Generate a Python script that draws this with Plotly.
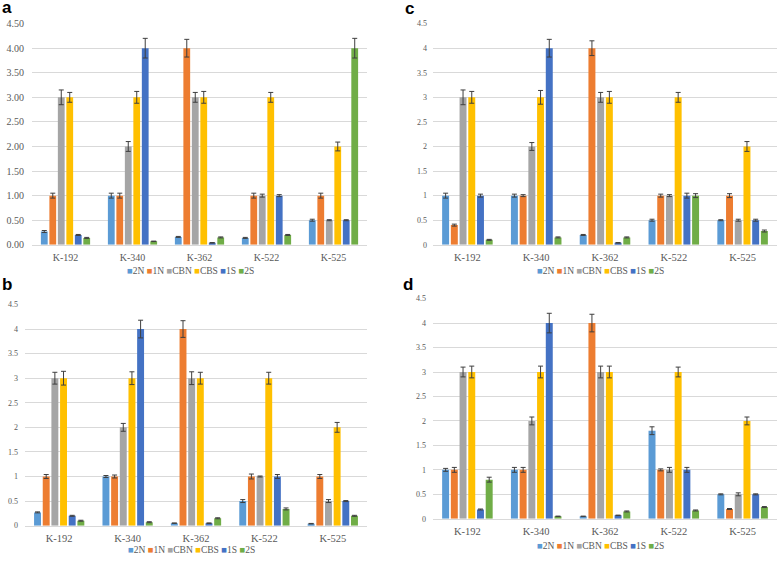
import plotly.graph_objects as go

categories = ["K-192", "K-340", "K-362", "K-522", "K-525"]
series_names = ["2N", "1N", "CBN", "CBS", "1S", "2S"]
series_colors = ["#5B9BD5", "#ED7D31", "#A5A5A5", "#FFC000", "#4472C4", "#70AD47"]

# Panel a
a_2N = [0.27, 1.0, 0.16, 0.14, 0.5]
a_1N = [1.0, 1.0, 4.0, 1.0, 1.0]
a_CBN = [3.0, 2.0, 3.0, 1.0, 0.5]
a_CBS = [3.0, 3.0, 3.0, 3.0, 2.0]
a_1S = [0.2, 4.0, 0.04, 1.0, 0.5]
a_2S = [0.14, 0.07, 0.15, 0.2, 4.0]
a_err_2N = [0.02, 0.05, 0.01, 0.01, 0.02]
a_err_1N = [0.05, 0.05, 0.18, 0.05, 0.05]
a_err_CBN = [0.15, 0.1, 0.1, 0.03, 0.01]
a_err_CBS = [0.1, 0.12, 0.12, 0.1, 0.09]
a_err_1S = [0.01, 0.2, 0.005, 0.02, 0.01]
a_err_2S = [0.01, 0.005, 0.01, 0.01, 0.2]

# Panel b
b_2N = [0.27, 1.0, 0.05, 0.5, 0.04]
b_1N = [1.0, 1.0, 4.0, 1.0, 1.0]
b_CBN = [3.0, 2.0, 3.0, 1.0, 0.5]
b_CBS = [3.0, 3.0, 3.0, 3.0, 2.0]
b_1S = [0.2, 4.0, 0.05, 1.0, 0.5]
b_2S = [0.1, 0.07, 0.15, 0.34, 0.2]
b_err_2N = [0.01, 0.02, 0.005, 0.03, 0.005]
b_err_1N = [0.04, 0.03, 0.17, 0.05, 0.04]
b_err_CBN = [0.12, 0.08, 0.13, 0.01, 0.03]
b_err_CBS = [0.14, 0.13, 0.12, 0.12, 0.1]
b_err_1S = [0.01, 0.18, 0.005, 0.04, 0.01]
b_err_2S = [0.01, 0.01, 0.01, 0.02, 0.01]

# Panel c
c_2N = [1.0, 1.0, 0.2, 0.5, 0.5]
c_1N = [0.4, 1.0, 4.0, 1.0, 1.0]
c_CBN = [3.0, 2.0, 3.0, 1.0, 0.5]
c_CBS = [3.0, 3.0, 3.0, 3.0, 2.0]
c_1S = [1.0, 4.0, 0.04, 1.0, 0.5]
c_2S = [0.1, 0.15, 0.15, 1.0, 0.28]
c_err_2N = [0.05, 0.03, 0.01, 0.02, 0.01]
c_err_1N = [0.02, 0.02, 0.15, 0.03, 0.04]
c_err_CBN = [0.15, 0.08, 0.1, 0.02, 0.02]
c_err_CBS = [0.12, 0.14, 0.12, 0.1, 0.1]
c_err_1S = [0.03, 0.18, 0.005, 0.05, 0.02]
c_err_2S = [0.01, 0.01, 0.01, 0.04, 0.02]

# Panel d
d_2N = [1.0, 1.0, 0.05, 1.8, 0.5]
d_1N = [1.0, 1.0, 4.0, 1.0, 0.2]
d_CBN = [3.0, 2.0, 3.0, 1.0, 0.5]
d_CBS = [3.0, 3.0, 3.0, 3.0, 2.0]
d_1S = [0.19, 4.0, 0.07, 1.0, 0.5]
d_2S = [0.8, 0.05, 0.15, 0.17, 0.24]
d_err_2N = [0.03, 0.05, 0.005, 0.08, 0.01]
d_err_1N = [0.05, 0.05, 0.18, 0.02, 0.01]
d_err_CBN = [0.1, 0.08, 0.12, 0.05, 0.03]
d_err_CBS = [0.12, 0.12, 0.12, 0.1, 0.08]
d_err_1S = [0.01, 0.2, 0.005, 0.05, 0.01]
d_err_2S = [0.05, 0.005, 0.01, 0.01, 0.01]

panels = {
    "a": ([a_2N, a_1N, a_CBN, a_CBS, a_1S, a_2S],
          [a_err_2N, a_err_1N, a_err_CBN, a_err_CBS, a_err_1S, a_err_2S]),
    "b": ([b_2N, b_1N, b_CBN, b_CBS, b_1S, b_2S],
          [b_err_2N, b_err_1N, b_err_CBN, b_err_CBS, b_err_1S, b_err_2S]),
    "c": ([c_2N, c_1N, c_CBN, c_CBS, c_1S, c_2S],
          [c_err_2N, c_err_1N, c_err_CBN, c_err_CBS, c_err_1S, c_err_2S]),
    "d": ([d_2N, d_1N, d_CBN, d_CBS, d_1S, d_2S],
          [d_err_2N, d_err_1N, d_err_CBN, d_err_CBS, d_err_1S, d_err_2S]),
}

W, H = 777, 561


def px_x(p):
    return p / W


def px_y(p):
    return 1 - p / H


# panel layout: (axis suffix, x0px, x1px, ytop_px(4.5), ybottom_px(0),
#                tickformat, y tick font size, y tick standoff, x tick font size)
layout_spec = {
    "a": ("", 32, 367, 18, 244, ".2f", 10, 7, 10),
    "c": ("2", 433, 777, 18, 244, "", 8, 5, 10.5),
    "b": ("3", 25, 367, 305, 531, "", 8, 6, 10.5),
    "d": ("4", 433, 777, 299, 524, "", 8, 6, 10.5),
}

SERIF = "Liberation Serif, Times New Roman, serif"
TXT = "#595959"
GRID = "#D9D9D9"

fig = go.Figure()
layout_axes = {}

for key, (vals, errs) in panels.items():
    suf, x0, x1, yt, yb, tfmt, tsize, tstand, xsize = layout_spec[key]
    for name, color, v, e in zip(series_names, series_colors, vals, errs):
        fig.add_trace(go.Bar(
            x=categories, y=v, name=name,
            marker=dict(color=color, line=dict(width=0)),
            error_y=dict(type="data", array=e, visible=True,
                         color="#3F3F3F", thickness=1, width=2.5),
            xaxis="x" + suf, yaxis="y" + suf,
            showlegend=False,
        ))
    layout_axes["xaxis" + suf] = dict(
        domain=[px_x(x0), px_x(x1)], anchor="y" + suf,
        type="category", showgrid=False, zeroline=False,
        showline=True, linecolor=GRID, linewidth=1,
        ticks="", ticklabelstandoff=3,
        tickfont=dict(family=SERIF, size=xsize, color=TXT),
        fixedrange=True,
    )
    layout_axes["yaxis" + suf] = dict(
        domain=[px_y(yb), px_y(yt)], anchor="x" + suf,
        range=[0, 4.5], dtick=0.5, tickformat=tfmt,
        showgrid=True, gridcolor=GRID, gridwidth=1,
        zeroline=False, showline=False, ticks="",
        ticklabelstandoff=tstand,
        tickfont=dict(family=SERIF, size=tsize, color=TXT),
        fixedrange=True,
    )

# panel letters (label, left px, top px of text box) and legends as text
letters = [("a", 0, -10), ("c", 403, -9), ("b", 0, 273), ("d", 401, 273)]
legend_pos = [(190, 271), (600, 271), (191, 556), (600, 552)]

annotations = []
for (lab, lx, ly) in letters:
    annotations.append(dict(
        text="<b>%s</b>" % lab, x=px_x(lx), y=px_y(ly), xref="paper", yref="paper",
        xanchor="left", yanchor="top", showarrow=False,
        font=dict(family="Liberation Sans, Arial, sans-serif", size=17, color="#000000"),
    ))

legend_text = "&nbsp;".join(
    '<span style="color:%s">■</span>%s' % (c, n) for n, c in zip(series_names, series_colors)
)
for (cx, cy) in legend_pos:
    annotations.append(dict(
        text=legend_text, x=px_x(cx), y=px_y(cy), xref="paper", yref="paper",
        xanchor="center", yanchor="middle", showarrow=False,
        font=dict(family=SERIF, size=9.5, color=TXT),
    ))

fig.update_layout(
    width=W, height=H,
    margin=dict(l=0, r=0, t=0, b=0),
    paper_bgcolor="white", plot_bgcolor="white",
    barmode="group", bargap=0.24, bargroupgap=0.2,
    showlegend=False,
    annotations=annotations,
    **layout_axes,
)

fig.write_html(
    "out.html",
    config={"displayModeBar": False},
    post_script="document.body.style.margin='0';document.body.style.overflow='hidden';",
)
